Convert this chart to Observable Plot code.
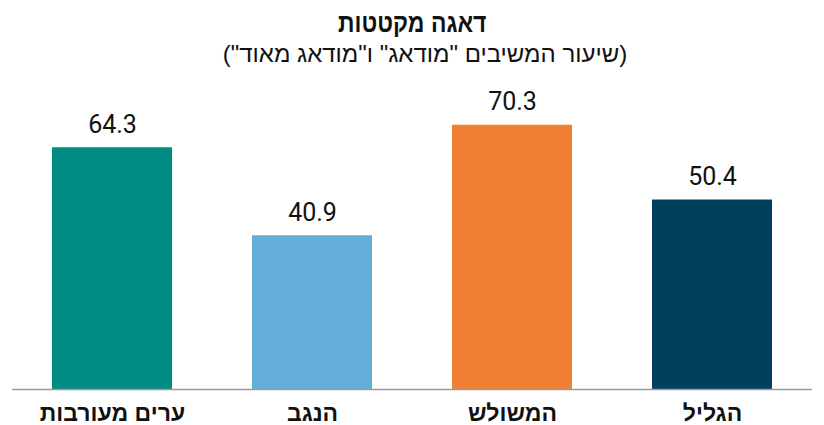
<!DOCTYPE html>
<html><head><meta charset="utf-8">
<script src="https://cdn.jsdelivr.net/npm/d3@7"></script>
<script src="https://cdn.jsdelivr.net/npm/@observablehq/plot@0.6"></script>
<style>
body{margin:0;background:#fff;font-family:Roboto,"Liberation Sans",sans-serif;}
#head{height:78px;text-align:center;direction:rtl;}
#t{font-weight:bold;font-size:27px;line-height:30px;padding-top:8px;color:#111;font-family:"Liberation Sans",sans-serif;}
#t span{display:inline-block;transform:scaleX(0.85);}
#s{font-size:24px;line-height:28px;padding-top:2px;color:#111;font-family:"Liberation Sans",sans-serif;padding-left:26px;}
</style></head>
<body>
<div id="head"><div id="t"><span>דאגה מקטטות</span></div><div id="s">(שיעור המשיבים "מודאג" ו"מודאג מאוד")</div></div>
<div id="chart"></div>
<script>
const regions = ["ערים מעורבות", "הנגב", "המשולש", "הגליל"];
const values = [64.3, 40.9, 70.3, 50.4];
const colors = ["#008C82", "#63AED9", "#EE7F33", "#003F5E"];
const data = regions.map((r, i) => ({region: r, value: values[i], color: colors[i]}));
const chart = Plot.plot({
  width: 824, height: 347,
  marginLeft: 12, marginRight: 12, marginTop: 14, marginBottom: 36,
  x: {domain: regions, paddingInner: 0.4, paddingOuter: 0.2, label: null},
  y: {domain: [0, 79], axis: null},
  style: {fontFamily: 'Roboto,"Liberation Sans",sans-serif', fontSize: "20px", color: "#111", overflow: "visible"},
  marks: [
    Plot.barY(data, {x: "region", y: "value", fill: "color"}),
    Plot.ruleY([0], {stroke: "#999", strokeWidth: 1.5}),
    Plot.text(data, {x: "region", y: "value", text: d => d.value.toFixed(1), dy: -23, fontSize: 25, fill: "#111"}),
    Plot.axisX({tickSize: 0, tickPadding: 15, fontSize: 23, fontWeight: "bold", fontFamily: '"Liberation Sans",sans-serif', label: null})
  ]
});
document.getElementById("chart").appendChild(chart);
</script>
</body></html>
